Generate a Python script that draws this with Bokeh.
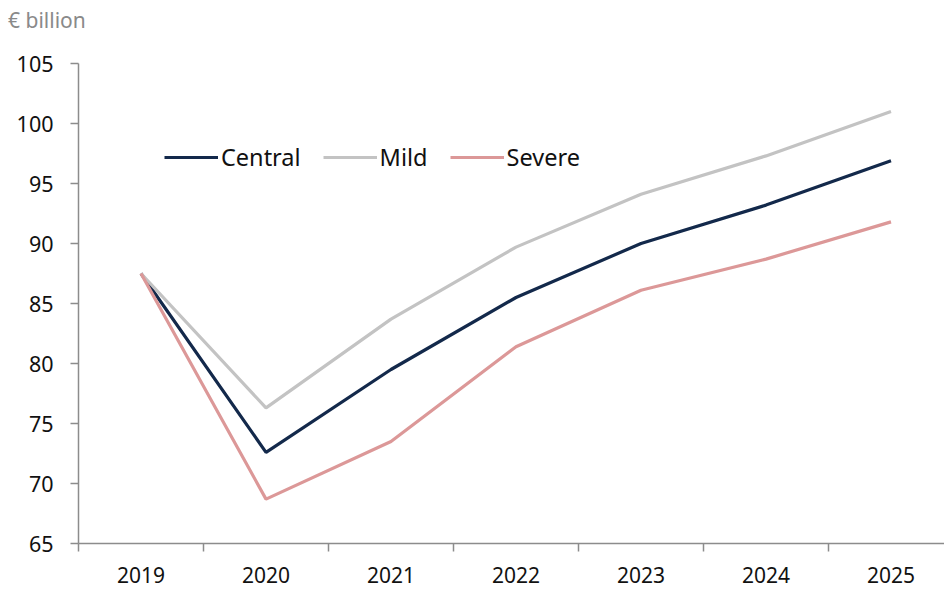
from bokeh.plotting import figure
from bokeh.models import (Range1d, FixedTicker, LinearAxis, Legend, LegendItem, Div)
from bokeh.layouts import column
from bokeh.embed import file_html
from bokeh.resources import INLINE

# Tax revenue scenarios, EUR billion
years = ["2019", "2020", "2021", "2022", "2023", "2024", "2025"]
central = [87.5, 72.6, 79.5, 85.5, 90.0, 93.2, 96.9]
mild = [87.5, 76.3, 83.7, 89.7, 94.1, 97.3, 101.0]
severe = [87.5, 68.7, 73.5, 81.4, 86.1, 88.7, 91.8]
y_ticks = [65, 70, 75, 80, 85, 90, 95, 100, 105]
unit_text = "€ billion"

FONT = "Noto Sans"
AXIS_GREY = "#8c8c8c"

xs = [i + 0.5 for i in range(len(years))]

p = figure(width=944, height=549, output_backend="svg", toolbar_location=None,
           x_range=Range1d(0, 6.928), y_range=Range1d(65, 105),
           min_border_left=78, min_border_right=0, min_border_top=23,
           min_border_bottom=46, x_axis_location=None, y_axis_location=None)
p.outline_line_color = None
p.grid.visible = False
p.background_fill_color = "white"
p.border_fill_color = "white"

# value axis
yax = LinearAxis(ticker=FixedTicker(ticks=y_ticks))
yax.axis_line_color = AXIS_GREY
yax.axis_line_width = 1.5
yax.major_tick_line_color = AXIS_GREY
yax.major_tick_line_width = 1.5
yax.major_tick_in = 0
yax.major_tick_out = 8
yax.minor_tick_line_color = None
yax.major_label_text_font = FONT
yax.major_label_text_font_size = "21.5px"
yax.major_label_text_color = "#111111"
yax.major_label_standoff = 17
p.add_layout(yax, "left")

# year boundaries (tick marks only)
xb = LinearAxis(ticker=FixedTicker(ticks=list(range(len(years) + 1))))
xb.axis_line_color = AXIS_GREY
xb.axis_line_width = 1.5
xb.major_tick_line_color = AXIS_GREY
xb.major_tick_line_width = 1.5
xb.major_tick_in = 0
xb.major_tick_out = 8
xb.minor_tick_line_color = None
xb.major_label_text_font_size = "0px"
xb.major_label_text_color = None
xb.major_label_standoff = 0
p.add_layout(xb, "below")

# year labels centred in each slot
xl = LinearAxis(ticker=FixedTicker(ticks=xs),
                major_label_overrides={x: y for x, y in zip(xs, years)})
xl.axis_line_color = None
xl.major_tick_line_color = None
xl.minor_tick_line_color = None
xl.major_label_text_font = FONT
xl.major_label_text_font_size = "21px"
xl.major_label_text_color = "#111111"
xl.major_label_standoff = 9
p.add_layout(xl, "below")

r_c = p.line(xs, central, line_color="#13294b", line_width=3.2)
r_m = p.line(xs, mild, line_color="#c3c3c3", line_width=3.2)
r_s = p.line(xs, severe, line_color="#dc9898", line_width=3.2)

legend = Legend(items=[LegendItem(label="Central", renderers=[r_c]),
                       LegendItem(label="Mild", renderers=[r_m]),
                       LegendItem(label="Severe", renderers=[r_s])],
                orientation="horizontal", location=(86, 370),
                glyph_width=54, glyph_height=20, label_standoff=3,
                spacing=22, padding=0, margin=0,
                label_text_font=FONT, label_text_font_size="23.5px",
                label_text_color="#111111",
                background_fill_alpha=0, border_line_color=None)
p.add_layout(legend, "center")

# unit note above the value axis
unit = Div(text=unit_text, width=944, height=40, margin=(0, 0, 0, 0),
           styles={"font-family": FONT, "font-size": "21px", "color": "#8a8a8a",
                   "padding-left": "8px", "padding-top": "6px",
                   "line-height": "28px", "background": "white"})

layout = column(unit, p, spacing=0, margin=(0, 0, 0, 0))

open("out.html", "w").write(file_html(layout, INLINE))
